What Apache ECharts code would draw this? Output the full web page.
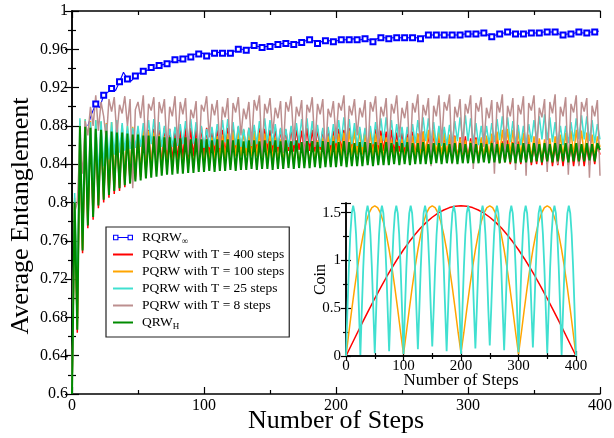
<!DOCTYPE html>
<html>
<head>
<meta charset="utf-8">
<script src="https://cdn.jsdelivr.net/npm/echarts@6/dist/echarts.min.js"></script>
<style>
html, body { margin: 0; padding: 0; background: #fff; }
#chart { width: 614px; height: 438px; }
</style>
</head>
<body>
<div id="chart"></div>
<script>
const FONT = "'Liberation Serif', 'Times New Roman', serif";

// ---- main panel: average entanglement vs number of steps ----
// RQRW (infinite period), sampled every 3 steps starting at step 12
const rqrwStart = 12, rqrwStep = 3;
const rqrwInf = [
  .880,.893,.903,.899,.912,.915,.919,.917,.926,.936,
  .929,.927,.932,.935,.937,.938,.941,.940,.943,.944,
  .945,.947,.949,.948,.950,.953,.952,.955,.955,.956,
  .953,.955,.956,.957,.956,.955,.956,.958,.960,.960,
  .959,.962,.964,.963,.962,.963,.963,.965,.965,.966,
  .966,.966,.965,.967,.967,.969,.970,.969,.966,.968,
  .969,.969,.968,.969,.970,.970,.970,.971,.970,.970,
  .971,.970,.968,.971,.972,.972,.971,.972,.972,.972,
  .972,.972,.972,.972,.971,.974,.975,.975,.975,.975,
  .975,.975,.975,.975,.975,.976,.976,.976,.976,.977,
  .977,.975,.973,.975,.976,.977,.978,.977,.976,.976,
  .976,.977,.977,.977,.977,.978,.978,.978,.978,.976,
  .975,.976,.976,.977,.978,.977,.977,.978,.978,.979
];

// the remaining walks are sampled every 2 steps, 0..400
const walkStep = 2;
const pqrw400 = [
  .600,.800,.664,.880,.747,.879,.773,.879,.782,.878,
  .794,.877,.800,.876,.805,.876,.809,.875,.812,.876,
  .816,.875,.820,.876,.824,.875,.827,.877,.830,.876,
  .833,.877,.836,.876,.838,.878,.840,.877,.842,.878,
  .844,.877,.846,.879,.845,.878,.848,.877,.847,.879,
  .849,.878,.848,.877,.850,.879,.849,.876,.851,.878,
  .850,.877,.852,.879,.850,.876,.852,.878,.851,.877,
  .853,.879,.852,.877,.854,.876,.852,.878,.853,.877,
  .852,.876,.854,.878,.853,.877,.855,.875,.853,.878,
  .854,.876,.853,.877,.855,.876,.854,.878,.853,.875,
  .855,.877,.854,.876,.853,.878,.855,.875,.854,.877,
  .853,.876,.855,.874,.853,.877,.852,.875,.854,.874,
  .852,.876,.851,.873,.853,.875,.850,.872,.851,.874,
  .849,.872,.850,.874,.848,.871,.849,.873,.847,.870,
  .848,.871,.846,.869,.847,.870,.845,.868,.846,.869,
  .844,.867,.845,.868,.843,.866,.844,.867,.842,.865,
  .843,.866,.841,.864,.842,.865,.840,.863,.841,.864,
  .840,.862,.841,.864,.839,.861,.840,.863,.839,.860,
  .840,.862,.838,.861,.839,.860,.838,.862,.839,.861,
  .838,.860,.839,.861,.838,.859,.839,.860,.840,.861,
  .850
];
const pqrw100 = [
  .600,.805,.670,.886,.752,.887,.780,.885,.790,.886,
  .800,.884,.806,.883,.811,.884,.815,.882,.818,.881,
  .822,.880,.825,.879,.827,.877,.829,.876,.831,.875,
  .833,.873,.834,.871,.835,.869,.836,.866,.837,.864,
  .838,.862,.838,.860,.839,.861,.840,.862,.841,.864,
  .842,.866,.843,.868,.844,.869,.845,.871,.846,.872,
  .847,.874,.848,.875,.848,.876,.849,.875,.848,.874,
  .848,.873,.847,.872,.846,.870,.845,.868,.844,.866,
  .843,.865,.842,.863,.841,.862,.841,.861,.842,.862,
  .842,.863,.843,.865,.844,.867,.845,.869,.846,.870,
  .847,.872,.848,.873,.849,.875,.849,.876,.850,.876,
  .850,.875,.849,.874,.848,.872,.847,.870,.846,.868,
  .845,.866,.844,.865,.843,.866,.844,.868,.846,.870,
  .847,.872,.848,.874,.849,.876,.850,.876,.849,.875,
  .848,.873,.847,.871,.846,.869,.845,.867,.844,.865,
  .843,.864,.843,.866,.844,.868,.846,.870,.847,.872,
  .848,.874,.849,.876,.850,.877,.850,.876,.849,.875,
  .848,.873,.847,.871,.846,.869,.845,.867,.844,.866,
  .844,.867,.845,.869,.846,.871,.847,.873,.848,.875,
  .849,.876,.850,.875,.849,.873,.848,.871,.847,.869,
  .858
];
const pqrw25 = [
  .600,.810,.700,.888,.770,.887,.800,.884,.815,.886,
  .828,.885,.838,.882,.845,.884,.850,.886,.852,.883,
  .854,.880,.856,.878,.857,.880,.858,.883,.860,.886,
  .861,.887,.860,.884,.858,.880,.857,.877,.858,.879,
  .859,.882,.861,.885,.862,.887,.861,.884,.859,.880,
  .857,.877,.858,.879,.860,.882,.862,.886,.863,.887,
  .862,.884,.860,.880,.858,.877,.857,.878,.859,.881,
  .861,.885,.863,.888,.862,.886,.860,.882,.858,.878,
  .857,.877,.858,.880,.860,.883,.862,.887,.863,.888,
  .862,.885,.860,.881,.858,.878,.858,.879,.860,.882,
  .862,.886,.864,.889,.863,.887,.861,.883,.859,.879,
  .858,.878,.859,.880,.861,.884,.863,.888,.864,.889,
  .863,.886,.861,.882,.859,.879,.858,.879,.860,.882,
  .862,.886,.864,.889,.864,.888,.862,.884,.860,.880,
  .859,.879,.860,.881,.862,.885,.864,.889,.865,.891,
  .864,.888,.862,.883,.860,.880,.859,.880,.861,.883,
  .863,.887,.865,.890,.865,.889,.863,.885,.861,.881,
  .860,.880,.861,.882,.863,.886,.865,.890,.866,.892,
  .865,.889,.863,.884,.861,.880,.860,.880,.862,.884,
  .864,.888,.866,.891,.866,.890,.864,.886,.862,.882,
  .866
];
const pqrw8 = [
  .600,.790,.800,.860,.830,.885,.870,.900,.880,.912,
  .875,.905,.890,.865,.908,.895,.910,.870,.902,.893,
  .911,.880,.908,.815,.897,.905,.888,.912,.850,.903,
  .896,.910,.845,.905,.893,.908,.855,.900,.890,.911,
  .862,.905,.892,.909,.850,.897,.888,.906,.840,.902,
  .895,.911,.868,.903,.891,.907,.857,.900,.889,.909,
  .845,.904,.894,.910,.870,.898,.887,.905,.860,.907,
  .896,.912,.848,.903,.893,.909,.872,.899,.888,.906,
  .852,.905,.895,.911,.864,.900,.890,.907,.838,.902,
  .894,.910,.858,.903,.892,.908,.846,.898,.889,.906,
  .866,.904,.896,.912,.850,.901,.891,.908,.870,.899,
  .889,.907,.844,.905,.895,.911,.860,.900,.890,.909,
  .848,.903,.893,.912,.868,.899,.888,.906,.842,.904,
  .894,.913,.856,.902,.891,.909,.838,.901,.890,.912,
  .862,.905,.896,.913,.840,.900,.889,.908,.852,.903,
  .893,.912,.835,.904,.895,.910,.858,.899,.888,.907,
  .830,.905,.894,.913,.846,.901,.890,.909,.834,.902,
  .892,.911,.828,.904,.896,.912,.850,.899,.889,.908,
  .832,.905,.893,.913,.840,.900,.890,.910,.829,.903,
  .894,.912,.838,.905,.895,.909,.826,.901,.890,.907,
  .828
];
const qrwH = [
  .600,.800,.667,.880,.750,.879,.776,.878,.785,.877,
  .797,.876,.803,.875,.808,.874,.812,.873,.815,.873,
  .818,.872,.820,.871,.822,.871,.823,.870,.825,.870,
  .826,.869,.827,.869,.828,.868,.829,.868,.829,.867,
  .830,.867,.830,.868,.831,.866,.831,.867,.832,.866,
  .832,.866,.833,.865,.832,.866,.833,.865,.833,.866,
  .834,.865,.833,.866,.834,.864,.834,.865,.835,.865,
  .834,.864,.835,.865,.835,.864,.834,.865,.835,.864,
  .835,.865,.836,.864,.835,.865,.836,.863,.836,.864,
  .836,.864,.837,.863,.836,.864,.837,.863,.837,.864,
  .837,.863,.838,.864,.837,.863,.838,.862,.838,.863,
  .838,.863,.839,.862,.838,.863,.839,.862,.839,.863,
  .839,.862,.840,.863,.839,.862,.840,.863,.839,.862,
  .840,.862,.840,.863,.840,.861,.840,.862,.841,.862,
  .840,.862,.841,.861,.841,.862,.840,.862,.841,.861,
  .841,.862,.841,.861,.841,.862,.842,.861,.841,.862,
  .842,.861,.841,.862,.842,.861,.842,.862,.841,.861,
  .842,.862,.842,.861,.842,.862,.843,.861,.842,.862,
  .843,.861,.842,.862,.843,.861,.843,.862,.842,.861,
  .843,.862,.843,.861,.843,.862,.844,.861,.843,.862,
  .855
];

// ---- inset: coin parameter vs number of steps ----
const coin400Step = 10;
const coin400 = [
  0, .123, .246, .367, .485, .601, .713, .821, .923, 1.020,
  1.111, 1.194, 1.271, 1.340, 1.400, 1.451, 1.494, 1.527, 1.552, 1.566,
  1.571, 1.566, 1.552, 1.527, 1.494, 1.451, 1.400, 1.340, 1.271, 1.194,
  1.111, 1.020, .923, .821, .713, .601, .485, .367, .246, .123,
  0
];
const coin100Step = 5;
const coin100 = [
  0, .246, .485, .713, .923, 1.111, 1.271, 1.400, 1.494, 1.552,
  1.571, 1.552, 1.494, 1.400, 1.271, 1.111, .923, .713, .485, .246,
  .02, .246, .485, .713, .923, 1.111, 1.271, 1.400, 1.494, 1.552,
  1.571, 1.552, 1.494, 1.400, 1.271, 1.111, .923, .713, .485, .246,
  .03, .246, .485, .713, .923, 1.111, 1.271, 1.400, 1.494, 1.552,
  1.571, 1.552, 1.494, 1.400, 1.271, 1.111, .923, .713, .485, .246,
  .02, .246, .485, .713, .923, 1.111, 1.271, 1.400, 1.494, 1.552,
  1.571, 1.552, 1.494, 1.400, 1.271, 1.111, .923, .713, .485, .246,
  0
];
const coin25Step = 2.5;
const coin25 = [
  0, .485, .923, 1.271, 1.494, 1.571, 1.494, 1.271, .923, .485,
  .01, .485, .923, 1.271, 1.494, 1.571, 1.494, 1.271, .923, .485,
  .03, .485, .923, 1.271, 1.494, 1.571, 1.494, 1.271, .923, .485,
  .05, .485, .923, 1.271, 1.494, 1.571, 1.494, 1.271, .923, .485,
  .02, .485, .923, 1.271, 1.494, 1.571, 1.494, 1.271, .923, .485,
  .07, .485, .923, 1.271, 1.494, 1.571, 1.494, 1.271, .923, .485,
  .10, .485, .923, 1.271, 1.494, 1.571, 1.494, 1.271, .923, .485,
  .05, .485, .923, 1.271, 1.494, 1.571, 1.494, 1.271, .923, .485,
  .02, .485, .923, 1.271, 1.494, 1.571, 1.494, 1.271, .923, .485,
  .08, .485, .923, 1.271, 1.494, 1.571, 1.494, 1.271, .923, .485,
  .11, .485, .923, 1.271, 1.494, 1.571, 1.494, 1.271, .923, .485,
  .06, .485, .923, 1.271, 1.494, 1.571, 1.494, 1.271, .923, .485,
  .04, .485, .923, 1.271, 1.494, 1.571, 1.494, 1.271, .923, .485,
  .09, .485, .923, 1.271, 1.494, 1.571, 1.494, 1.271, .923, .485,
  .03, .485, .923, 1.271, 1.494, 1.571, 1.494, 1.271, .923, .485,
  .01, .485, .923, 1.271, 1.494, 1.571, 1.494, 1.271, .923, .485,
  0
];

const NAMES = ['RQRW_inf', 'PQRW with T = 400 steps', 'PQRW with T = 100 steps',
               'PQRW with T = 25 steps', 'PQRW with T = 8 steps', 'QRW_H'];
const COLORS = ['#0000ff', '#ff0000', '#ffa500', '#40e0d0', '#bc8f8f', '#008b00'];

function pairs(vals, start, step) {
  return vals.map((v, i) => [start + i * step, v]);
}

const chart = echarts.init(document.getElementById('chart'), null, { renderer: 'canvas' });

function valueAxis(extra) {
  return Object.assign({
    type: 'value',
    nameMoveOverlap: false,
    axisLine: { show: true, lineStyle: { color: '#000', width: 1.5 } },
    axisTick: { show: true, inside: true, length: 7, lineStyle: { color: '#000', width: 1.2 } },
    minorTick: { show: true, splitNumber: 2, length: 4, lineStyle: { color: '#000', width: 1.2 } },
    splitLine: { show: false },
    minorSplitLine: { show: false },
    axisLabel: { show: true, color: '#000', fontFamily: FONT, fontSize: 16, margin: 4 },
    nameTextStyle: { color: '#000', fontFamily: FONT }
  }, extra);
}
function mirror(ax) {
  const m = JSON.parse(JSON.stringify(ax));
  m.axisLabel = { show: false };
  delete m.name;
  return m;
}

const xMain = valueAxis({ gridIndex: 0, position: 'bottom', min: 0, max: 400, interval: 100,
  name: 'Number of Steps', nameLocation: 'middle', nameGap: 14,
  nameTextStyle: { color: '#000', fontFamily: FONT, fontSize: 26 } });
const yMain = valueAxis({ gridIndex: 0, position: 'left', min: 0.6, max: 1, interval: 0.04,
  name: 'Average Entanglement', nameLocation: 'middle', nameGap: 38,
  nameTextStyle: { color: '#000', fontFamily: FONT, fontSize: 26, padding: [0, 27, 0, 0] } });
yMain.axisLabel.formatter = v => String(+v.toFixed(2));

const xIn = valueAxis({ gridIndex: 1, position: 'bottom', min: 0, max: 400, interval: 100,
  name: 'Number of Steps', nameLocation: 'middle', nameGap: 16,
  nameTextStyle: { color: '#000', fontFamily: FONT, fontSize: 17 } });
xIn.axisLabel.fontSize = 15; xIn.axisLabel.margin = 3;
xIn.axisTick.length = 5; xIn.minorTick.length = 3;
const yIn = valueAxis({ gridIndex: 1, position: 'left', min: 0, max: 1.6, interval: 0.5,
  name: 'Coin', nameLocation: 'middle', nameGap: 17,
  nameTextStyle: { color: '#000', fontFamily: FONT, fontSize: 16 } });
yIn.axisLabel.fontSize = 15; yIn.axisLabel.margin = 5;
yIn.axisLabel.showMaxLabel = false;
yIn.axisLabel.formatter = v => String(+v.toFixed(1));
yIn.axisTick.length = 5; yIn.minorTick.length = 3;

const xMainTop = mirror(xMain); xMainTop.position = 'top';
const yMainRight = mirror(yMain); yMainRight.position = 'right';
const xInTop = mirror(xIn); xInTop.position = 'top';
const yInRight = mirror(yIn); yInRight.position = 'right';

function walkSeries(idx, data, width) {
  return {
    type: 'line', name: NAMES[idx], xAxisIndex: 0, yAxisIndex: 0,
    data: data, symbol: 'none', showSymbol: false,
    lineStyle: { color: COLORS[idx], width: width },
    itemStyle: { color: COLORS[idx] },
    emphasis: { disabled: true }, animation: false
  };
}

const rqrwData = pairs(rqrwInf, rqrwStart, rqrwStep).map(p =>
  (p[0] >= 18 && p[0] % 6 === 0) ? { value: p } : { value: p, symbol: 'none' });

const series = [
  {
    type: 'line', name: NAMES[0], xAxisIndex: 0, yAxisIndex: 0,
    data: rqrwData, symbol: 'emptyRect', symbolSize: 5, showSymbol: true, showAllSymbol: true,
    lineStyle: { color: COLORS[0], width: 1.1 },
    itemStyle: { color: COLORS[0], borderWidth: 1 },
    emphasis: { disabled: true }, animation: false
  },
  walkSeries(1, pairs(pqrw400, 0, walkStep), 1.5),
  walkSeries(2, pairs(pqrw100, 0, walkStep), 1.5),
  walkSeries(3, pairs(pqrw25, 0, walkStep), 1.5),
  walkSeries(4, pairs(pqrw8, 0, walkStep), 1.5),
  walkSeries(5, pairs(qrwH, 0, walkStep), 2),
  // inset curves
  { type: 'line', xAxisIndex: 2, yAxisIndex: 2, data: pairs(coin400, 0, coin400Step),
    symbol: 'none', lineStyle: { color: '#ff0000', width: 1.5 }, emphasis: { disabled: true }, animation: false },
  { type: 'line', xAxisIndex: 2, yAxisIndex: 2, data: pairs(coin100, 0, coin100Step),
    symbol: 'none', lineStyle: { color: '#ffa500', width: 1.5 }, emphasis: { disabled: true }, animation: false },
  { type: 'line', xAxisIndex: 2, yAxisIndex: 2, data: pairs(coin25, 0, coin25Step),
    symbol: 'none', lineStyle: { color: '#40e0d0', width: 1.8 }, emphasis: { disabled: true }, animation: false }
];

// legend keys: a plain stroke, and a stroke capped by two open squares
const lineIcon = 'path://M0,0H20V2H0Z';
const blueIcon = 'path://M0,0H6V6H0Z M1.2,1.2V4.8H4.8V1.2Z M6,2.5H16V3.5H6Z M16,0H22V6H16Z M17.2,1.2V4.8H20.8V1.2Z';

const option = {
  backgroundColor: '#fff',
  animation: false,
  grid: [
    { left: 72, right: 14, top: 11, bottom: 44, containLabel: false, outerBoundsMode: 'none' },
    { left: 346, right: 38, top: 203, bottom: 82, containLabel: false, outerBoundsMode: 'none',
      show: true, backgroundColor: '#fff', borderWidth: 0 }
  ],
  xAxis: [xMain, xMainTop, xIn, xInTop],
  yAxis: [yMain, yMainRight, yIn, yInRight],
  legend: {
    orient: 'vertical', left: 106, top: 227,
    padding: [2, 5, 6, 7], itemGap: 0, itemWidth: 20, itemHeight: 6,
    borderColor: '#222', borderWidth: 1.2, backgroundColor: '#fff',
    selectedMode: false,
    textStyle: {
      fontFamily: FONT, fontSize: 13.5, color: '#000', lineHeight: 17, padding: [0, 0, 0, 4],
      rich: {
        n: { fontFamily: FONT, fontSize: 13.5, lineHeight: 17, color: '#000' },
        s: { fontFamily: FONT, fontSize: 9, lineHeight: 9, padding: [8, 0, 0, 0], color: '#000' }
      }
    },
    formatter: name => {
      if (name === 'RQRW_inf') return '{n|RQRW}{s|\u221e}';
      if (name === 'QRW_H') return '{n|QRW}{s|H}';
      return '{n|' + name + '}';
    },
    data: [
      { name: NAMES[0], icon: blueIcon, itemStyle: { color: COLORS[0], borderWidth: 0 } },
      { name: NAMES[1], icon: lineIcon, itemStyle: { color: COLORS[1], borderWidth: 0 } },
      { name: NAMES[2], icon: lineIcon, itemStyle: { color: COLORS[2], borderWidth: 0 } },
      { name: NAMES[3], icon: lineIcon, itemStyle: { color: COLORS[3], borderWidth: 0 } },
      { name: NAMES[4], icon: lineIcon, itemStyle: { color: COLORS[4], borderWidth: 0 } },
      { name: NAMES[5], icon: lineIcon, itemStyle: { color: COLORS[5], borderWidth: 0 } }
    ]
  },
  series: series
};
chart.setOption(option);
</script>
</body>
</html>
